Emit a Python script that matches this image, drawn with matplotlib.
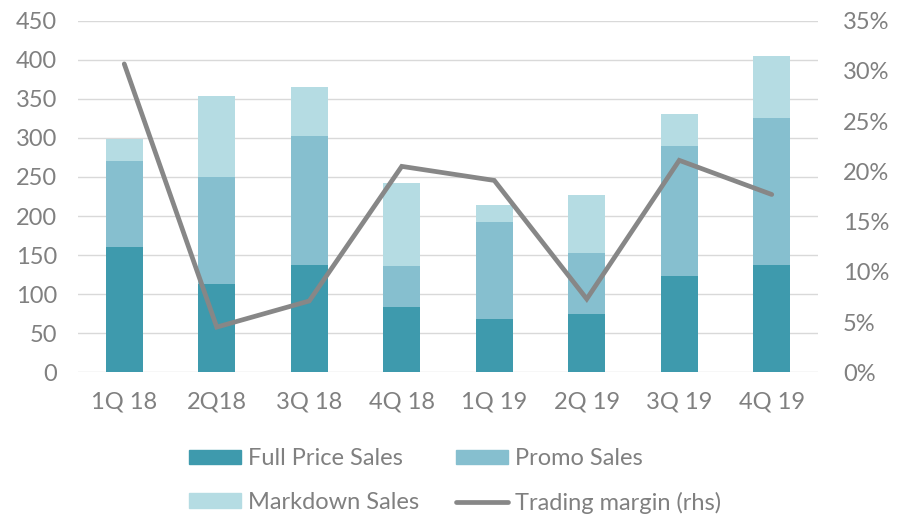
import matplotlib
matplotlib.use("Agg")
import matplotlib.pyplot as plt
import numpy as np
from matplotlib.patches import Patch
from matplotlib.lines import Line2D

categories = ["1Q 18", "2Q18", "3Q 18", "4Q 18", "1Q 19", "2Q 19", "3Q 19", "4Q 19"]
full_price = [160, 113, 137, 84, 68, 74, 123, 137]
promo = [111, 137, 166, 52, 124, 79, 167, 188]
markdown = [27, 103, 62, 106, 22, 74, 40, 80]
margin = [30.7, 4.5, 7.1, 20.5, 19.1, 7.3, 21.1, 17.7]

c_full = "#3E9AAD"
c_promo = "#86BFCF"
c_md = "#B5DCE3"
c_line = "#878787"
c_text = "#808080"

plt.rcParams['font.family'] = ['Lato', 'DejaVu Sans']
FS = 17

fig = plt.figure(figsize=(9.03, 5.16), dpi=100)
ax = fig.add_axes([78/903, 1-372.3/516, 740/903, (372.3-20.7)/516])
x = np.arange(len(categories))
w = 0.4
full_price_a = np.array(full_price)
promo_a = np.array(promo)
md_a = np.array(markdown)
ax.bar(x, full_price_a, w, color=c_full, zorder=2)
ax.bar(x, promo_a, w, bottom=full_price_a, color=c_promo, zorder=2)
ax.bar(x, md_a, w, bottom=full_price_a+promo_a, color=c_md, zorder=2)
ax.set_xlim(-0.5, len(categories)-0.5)
ax.set_ylim(0, 450)
ax.set_yticks(np.arange(0, 451, 50))
ax.grid(axis='y', color='#D9D9D9', lw=1.0, zorder=0)
ax.set_axisbelow(True)
for s in ax.spines.values():
    s.set_visible(False)
ax.tick_params(axis='both', length=0, labelsize=FS, labelcolor=c_text)
ax.tick_params(axis='x', pad=14)
ax.tick_params(axis='y', pad=15)
ax.set_xticks(x)
ax.set_xticklabels(categories)

ax2 = ax.twinx()
ax2.plot(x, np.array(margin)/100, color=c_line, lw=3.4, solid_capstyle='round', solid_joinstyle='miter', zorder=3)
ax2.set_ylim(0, 0.35)
ax2.set_yticks(np.arange(0, 0.351, 0.05))
ax2.set_yticklabels([f"{int(round(v*100))}%" for v in np.arange(0, 0.351, 0.05)])
for s in ax2.spines.values():
    s.set_visible(False)
ax2.tick_params(axis='y', length=0, labelsize=FS, labelcolor=c_text, pad=18)

handles = [Patch(color=c_full), Patch(color=c_md), Patch(color=c_promo),
           Line2D([0], [0], color=c_line, lw=3.4, solid_capstyle='round')]
labels = ["Full Price Sales", "Markdown Sales", "Promo Sales", "Trading margin (rhs)"]
leg = fig.legend(handles, labels, ncol=2, loc='upper left', bbox_to_anchor=(189/903, 1-448/516),
                 frameon=False, fontsize=FS, handlelength=2.2, handleheight=0.55,
                 handletextpad=0.28, columnspacing=1.6, labelspacing=0.97, borderpad=0, borderaxespad=0)
for t in leg.get_texts():
    t.set_color(c_text)

fig.savefig("out.png", dpi=100)
